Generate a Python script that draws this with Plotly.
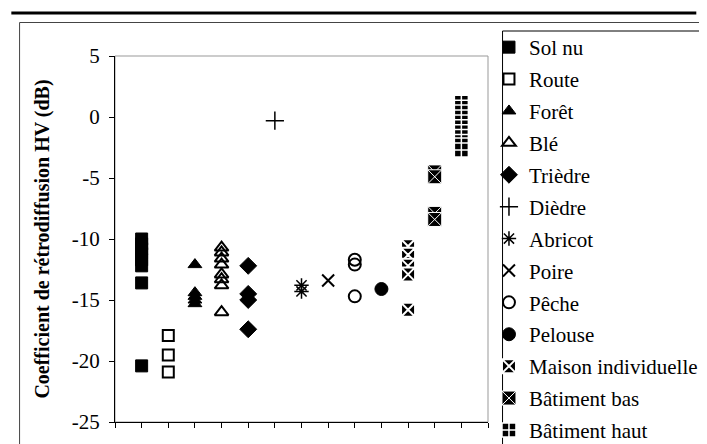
import plotly.graph_objects as go

categories = ["Sol nu", "Route", "Forêt", "Blé", "Trièdre", "Dièdre", "Abricot",
              "Poire", "Pêche", "Pelouse", "Maison individuelle", "Bâtiment bas",
              "Bâtiment haut"]
sol_nu = [-10.0, -10.4, -10.8, -11.2, -11.7, -12.2, -13.6, -20.4]
route = [-17.9, -19.5, -20.9]
foret = [-12.1, -14.4, -14.7, -15.0, -15.3]
ble = [-10.7, -11.1, -11.6, -12.1, -12.9, -13.3, -13.8, -16.0]
triedre = [-12.2, -14.5, -15.0, -17.4]
diedre = [-0.3]
abricot = [-13.8, -14.3]
poire = [-13.4]
peche = [-11.7, -12.1, -14.7]
pelouse = [-14.1]
maison = [-10.6, -11.3, -12.2, -12.9, -15.8]
bat_bas = [-4.5, -4.9, -7.9, -8.4]
bat_haut = [1.2, 0.8, 0.4, 0.0, -0.4, -0.8, -1.2, -1.6, -2.0, -2.3, -2.7]
series = [sol_nu, route, foret, ble, triedre, diedre, abricot, poire, peche,
          pelouse, maison, bat_bas, bat_haut]
y_tickvals = [-25, -20, -15, -10, -5, 0, 5]
y_ticktext = ["-25", "-20", "-15", "-10", "-5", "0", "5"]

styles = [
    dict(symbol="square", size=12, color="black", line=dict(color="black", width=1)),
    dict(symbol="square-open", size=11, color="black", line=dict(color="black", width=2)),
    dict(symbol="triangle-up", size=12, color="black", line=dict(color="black", width=1)),
    dict(symbol="triangle-up-open", size=12, color="black", line=dict(color="black", width=2)),
    dict(symbol="diamond", size=13, color="black", line=dict(color="black", width=1)),
    dict(symbol="cross-thin", size=13, color="black", line=dict(color="black", width=1.5)),
    dict(symbol="asterisk", size=12, color="black", line=dict(color="black", width=1.5)),
    dict(symbol="x-thin", size=12, color="black", line=dict(color="black", width=2)),
    dict(symbol="circle-open", size=12, color="black", line=dict(color="black", width=2)),
    dict(symbol="circle", size=13, color="black", line=dict(color="black", width=1)),
    dict(symbol="square-x", size=14, color="black", line=dict(color="white", width=2)),
    dict(symbol="square-x", size=14, color="black", line=dict(color="white", width=1)),
    dict(symbol="square-cross", size=14, color="black", line=dict(color="white", width=1.5)),
]

fig = go.Figure()
for i, (name, vals, st) in enumerate(zip(categories, series, styles)):
    fig.add_trace(go.Scatter(
        x=[i + 1] * len(vals), y=vals, mode="markers", name=name,
        legendgroup=name, marker=st,
    ))

font_family = "Liberation Serif, Times New Roman, DejaVu Serif, serif"
L, R, T, B = 107, 492, 48, 414
W, H = 707, 444
pw, ph = R - L, B - T

def px(x):
    return (x - L) / pw

def py(y):
    return (B - y) / ph

fig.update_layout(
    width=W, height=H,
    margin=dict(l=L, r=W - R, t=T, b=H - B, pad=0),
    plot_bgcolor="white", paper_bgcolor="white",
    font=dict(family=font_family, size=21, color="black"),
    showlegend=True,
    legend=dict(
        x=px(493), y=py(19), xanchor="left", yanchor="top",
        font=dict(family=font_family, size=21, color="black"),
        tracegroupgap=1.6, itemwidth=30, bgcolor="rgba(0,0,0,0)",
        itemsizing="trace", maxheight=440,
    ),
    xaxis=dict(
        range=[0, 14], tickmode="linear", tick0=0, dtick=1, showticklabels=False,
        ticks="outside", ticklen=5, tickcolor="black", showgrid=False,
        zeroline=False, showline=True, linecolor="black", linewidth=1,
    ),
    yaxis=dict(
        range=[-25, 5], tickmode="array", tickvals=y_tickvals, ticktext=y_ticktext,
        ticks="outside", ticklen=5, tickcolor="black", showgrid=False,
        zeroline=False, showline=True, linecolor="black", linewidth=1,
        tickfont=dict(family=font_family, size=21), ticklabelstandoff=5,
        title=dict(text="<b>Coefficient de rétrodiffusion HV (dB)</b>",
                   font=dict(family=font_family, size=20), standoff=16),
    ),
    shapes=[
        dict(type="rect", xref="paper", yref="paper", x0=0, x1=1, y0=0, y1=1,
             line=dict(color="#999999", width=1), layer="below"),
        dict(type="rect", xref="paper", yref="paper", x0=px(8.5), x1=px(712),
             y0=py(450), y1=py(14.5), line=dict(color="#444444", width=1)),
        dict(type="rect", xref="paper", yref="paper", x0=px(507), x1=px(712),
             y0=py(437.5), y1=py(23), line=dict(color="black", width=1)),
        dict(type="line", xref="paper", yref="paper", x0=px(0), x1=px(707),
             y0=py(5), y1=py(5), line=dict(color="black", width=3)),
    ],
)

fig.write_html("out.html")
